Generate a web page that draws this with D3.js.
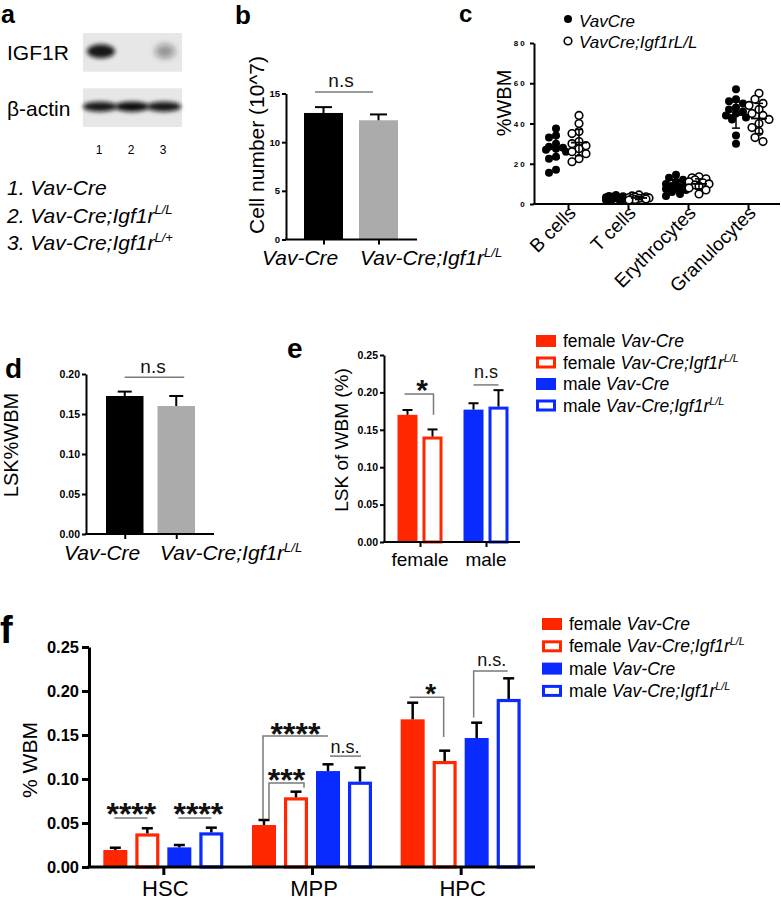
<!DOCTYPE html>
<html><head><meta charset="utf-8">
<script src="https://cdn.jsdelivr.net/npm/d3@7"></script>
<style>
body{margin:0;background:#fff;}
svg{display:block;font-family:"Liberation Sans",Arial,Helvetica,sans-serif;}
</style></head><body>
<svg id="fig" width="781" height="900"></svg>
<script>
// ---------------- DATA ----------------
// a: western blot
const blotLanes = ["1", "2", "3"];
const blotProteins = ["IGF1R", "β-actin"];
const igf1rSignal = [1.0, 0.0, 0.42];
const actinSignal = [0.95, 1.0, 0.95];
const laneGenotypes = [
  [["1. Vav-Cre", "i"]],
  [["2. Vav-Cre;Igf1r", "i"], ["L/L", "is"]],
  [["3. Vav-Cre;Igf1r", "i"], ["L/+", "is"]]
];
// b: BM cell number
const bGenotypes = ["Vav-Cre", "Vav-Cre;Igf1rL/L"];
const bCellNumber = [13.0, 12.25];
const bCellErr = [0.6, 0.6];
const bTicks = [0, 5, 10, 15];
// c: %WBM scatter
const cCategories = ["B cells", "T cells", "Erythrocytes", "Granulocytes"];
const cVavCre = [
  [37.5, 34, 33, 30, 28.5, 28, 27.5, 27, 26, 23.5, 22.5, 17, 15.5],
  [4.5, 4, 3.6, 3.3, 3, 3, 2.8, 2.6, 2.4, 2.2, 2, 1.6, 3.8],
  [14.5, 13, 12, 11, 10, 9.5, 9, 8.5, 8, 7.5, 7, 6, 5, 4],
  [57, 52, 51, 50, 48, 47, 46, 45, 44, 43, 42, 34, 30]
];
const cIgf1r = [
  [44, 40, 36, 35, 31, 30, 29, 27.5, 26, 25, 22.5, 21],
  [4.5, 4, 3.5, 3.2, 3, 3, 2.7, 2.5, 2.2, 2, 3.6, 2.8],
  [13.5, 13, 12.5, 12, 11, 10.5, 10, 9.5, 9, 8, 7, 5],
  [55, 52, 50, 49, 47, 45, 44, 42, 40, 38, 36, 33, 31]
];
const cVavMean = [28.3, 3.0, 9.0, 44.2];
const cVavSd = [5.5, 1.0, 3.0, 6.5];
const cIgfMean = [30.5, 3.0, 10.0, 42.5];
const cIgfSd = [6.5, 0.8, 2.5, 7.5];
const cTicks = [0, 20, 40, 60, 80];
const cLegend = ["VavCre", "VavCre;Igf1rL/L"];
// d: LSK %WBM
const dLSK = [0.1725, 0.160];
const dLSKErr = [0.0055, 0.0125];
const dTicks = [0, 0.05, 0.10, 0.15, 0.20];
// e: LSK by sex
const eSexes = ["female", "male"];
const eVavCre = [0.170, 0.177];
const eVavCreErr = [0.0065, 0.0085];
const eIgf1r = [0.141, 0.181];
const eIgf1rErr = [0.0095, 0.022];
const eTicks = [0, 0.05, 0.10, 0.15, 0.20, 0.25];
// f: HSC / MPP / HPC
const fPops = ["HSC", "MPP", "HPC"];
const fFemaleVav = [0.0193, 0.0477, 0.1678];
const fFemaleVavErr = [0.0026, 0.0057, 0.0189];
const fFemaleKO = [0.0382, 0.0792, 0.1205];
const fFemaleKOErr = [0.0058, 0.0064, 0.0117];
const fMaleVav = [0.0223, 0.109, 0.1466];
const fMaleVavErr = [0.0027, 0.0077, 0.0174];
const fMaleKO = [0.0394, 0.097, 0.191];
const fMaleKOErr = [0.0053, 0.0159, 0.0234];
const fTicks = [0, 0.05, 0.10, 0.15, 0.20, 0.25];
const legendSeries = [
  {sex: "female", geno: "vav"}, {sex: "female", geno: "ko"},
  {sex: "male", geno: "vav"}, {sex: "male", geno: "ko"}
];

// ---------------- DRAWING ----------------
const RED = "#ff2600", BLUE = "#0a2bff", GRAY = "#ababab", SIGGRAY = "#7a7a7a";
const FONT = "'Liberation Sans', Arial, Helvetica, sans-serif";
const svg = d3.select("#fig");
svg.append("rect").attr("width", 781).attr("height", 900).attr("fill", "#fff");
const defs = svg.append("defs");
defs.append("filter").attr("id", "blur").attr("x", "-50%").attr("y", "-80%").attr("width", "200%").attr("height", "260%")
  .append("feGaussianBlur").attr("stdDeviation", 2.2);
defs.append("filter").attr("id", "blur2").attr("x", "-50%").attr("y", "-80%").attr("width", "200%").attr("height", "260%")
  .append("feGaussianBlur").attr("stdDeviation", 3.2);

function rich(g, x, y, parts, size, anchor = "start") {
  const t = g.append("text").attr("x", x).attr("y", y).attr("font-size", size)
    .attr("text-anchor", anchor).attr("fill", "#000").attr("font-family", FONT);
  let raised = false;
  parts.forEach(([str, st]) => {
    const ts = t.append("tspan").text(str);
    if (st && st.includes("i")) ts.attr("font-style", "italic");
    if (st && st.includes("s")) {
      ts.attr("font-size", size * 0.62);
      if (!raised) { ts.attr("dy", -size * 0.4); raised = true; }
    } else if (raised) { ts.attr("dy", size * 0.4); raised = false; }
  });
  return t;
}
function genoParts(name) {
  if (name.endsWith("L/L") && name.includes("Igf1r") && name.startsWith("Vav-Cre;"))
    return [[name.replace("L/L", ""), "i"], ["L/L", "is"]];
  return [[name, "i"]];
}
function panelLetter(ch, x, y, size) {
  svg.append("text").attr("x", x).attr("y", y).attr("font-size", size).attr("font-weight", "bold")
    .attr("font-family", FONT).text(ch);
}
function yAxis(g, y, x0, ticks, fmt, o) {
  const ax = d3.axisLeft(y).tickValues(ticks).tickFormat(fmt).tickSizeInner(o.tick).tickSizeOuter(0).tickPadding(o.pad);
  const a = g.append("g").attr("transform", `translate(${x0},0)`).call(ax);
  a.attr("font-family", FONT);
  a.select(".domain").attr("stroke", "#000").attr("stroke-width", o.sw);
  a.selectAll(".tick line").attr("stroke", "#000").attr("stroke-width", o.sw);
  a.selectAll(".tick text").attr("font-size", o.fs).attr("font-weight", "bold").attr("fill", "#000")
    .attr("letter-spacing", o.ls || 0);
  return a;
}
function xAxis(g, x, y0, x0, x1, tick, sw) {
  const ax = d3.axisBottom(x).tickSizeInner(tick).tickSizeOuter(0).tickFormat("");
  const a = g.append("g").attr("transform", `translate(0,${y0})`).call(ax);
  a.select(".domain").remove();
  a.selectAll(".tick line").attr("stroke", "#000").attr("stroke-width", sw);
  g.append("line").attr("x1", x0 - sw / 2).attr("x2", x1).attr("y1", y0).attr("y2", y0)
    .attr("stroke", "#000").attr("stroke-width", sw);
}
function errT(g, cx, y1, y2, cap, sw, color = "#000") {
  g.append("line").attr("x1", cx).attr("x2", cx).attr("y1", y1).attr("y2", y2).attr("stroke", color).attr("stroke-width", sw);
  g.append("line").attr("x1", cx - cap / 2).attr("x2", cx + cap / 2).attr("y1", y2).attr("y2", y2).attr("stroke", color).attr("stroke-width", sw);
}
function bar(g, x, w, yTop, yBase, color, open, sw) {
  if (!open) {
    g.append("rect").attr("x", x).attr("y", yTop).attr("width", w).attr("height", yBase - yTop).attr("fill", color);
  } else {
    g.append("rect").attr("x", x + sw / 2).attr("y", yTop + sw / 2).attr("width", w - sw).attr("height", yBase - yTop - sw / 2)
      .attr("fill", "#fff").attr("stroke", color).attr("stroke-width", sw);
  }
}
function sigLine(g, pts, sw = 1.5) {
  g.append("path").attr("d", d3.line()(pts)).attr("fill", "none").attr("stroke", SIGGRAY).attr("stroke-width", sw);
}
function sigText(g, x, y, txt, size, bold) {
  g.append("text").attr("x", x).attr("y", y).attr("text-anchor", "middle").attr("font-size", size)
    .attr("font-weight", bold ? "bold" : "normal").attr("font-family", FONT).attr("fill", "#111").text(txt);
}

// ======== Panel a ========
panelLetter("a", 1, 22.5, 25);
const gA = svg.append("g");
const laneX = d3.scaleBand().domain(blotLanes).range([84, 180]);
const blotRowY = d3.scaleBand().domain(blotProteins).range([33, 127]).paddingInner(0.3);
blotProteins.forEach((p, pi) => {
  gA.append("rect").attr("x", 83).attr("y", blotRowY(p)).attr("width", 99).attr("height", blotRowY.bandwidth())
    .attr("fill", "#e7e7e7");
  gA.append("text").attr("x", 7).attr("y", blotRowY(p) + blotRowY.bandwidth() / 2 + 8).attr("font-size", 21)
    .attr("font-family", FONT).text(p);
  const sig = pi === 0 ? igf1rSignal : actinSignal;
  blotLanes.forEach((l, li) => {
    if (sig[li] <= 0) return;
    const cx = laneX(l) + laneX.bandwidth() / 2;
    gA.append("ellipse").attr("cx", cx + (pi === 0 ? 1 : 0)).attr("cy", blotRowY(p) + blotRowY.bandwidth() / 2 - 1)
      .attr("rx", pi === 0 ? (li === 0 ? 14 : 10) : 17).attr("ry", pi === 0 ? 7 : 5)
      .attr("fill", "#111").attr("fill-opacity", pi === 0 ? sig[li] * 0.95 : sig[li])
      .attr("filter", li === 2 && pi === 0 ? "url(#blur2)" : "url(#blur)");
  });
});
blotLanes.forEach(l => {
  gA.append("text").attr("x", laneX(l) + laneX.bandwidth() / 2 - 1).attr("y", 154).attr("text-anchor", "middle")
    .attr("font-size", 12).attr("font-family", FONT).text(l);
});
laneGenotypes.forEach((parts, i) => rich(gA, 7, 195 + i * 27.5, parts, 21));

// ======== Panel b ========
panelLetter("b", 235, 24, 26);
const gB = svg.append("g");
const yB = d3.scaleLinear().domain([0, 15]).range([239.5, 93.5]);
const xB = d3.scaleBand().domain(bGenotypes).range([304, 398]).paddingInner(0.291);
yAxis(gB, yB, 286, bTicks, d3.format("d"), {tick: 4, pad: 2, sw: 2, fs: 9.5});
bGenotypes.forEach((g, i) => {
  bar(gB, xB(g), xB.bandwidth(), yB(bCellNumber[i]), yB(0), i === 0 ? "#000" : GRAY, false);
  errT(gB, xB(g) + xB.bandwidth() / 2, yB(bCellNumber[i]), yB(bCellNumber[i] + bCellErr[i]), 17, 2);
});
xAxis(gB, d3.scaleOrdinal().domain(bGenotypes).range(bGenotypes.map(g => xB(g) + xB.bandwidth() / 2)), yB(0), 286, 417, 5, 2);
rich(gB, 262, 265, genoParts(bGenotypes[0]), 21);
rich(gB, 360, 265, genoParts(bGenotypes[1]), 21);
gB.append("text").attr("transform", "translate(264,145) rotate(-90)").attr("text-anchor", "middle")
  .attr("font-size", 21).attr("font-family", FONT).text("Cell number (10^7)");
sigLine(gB, [[xB(bGenotypes[0]) + 11, yB(15.15)], [xB(bGenotypes[1]) + 14, yB(15.15)]]);
sigText(gB, 341, 87, "n.s", 19, false);

// ======== Panel c ========
panelLetter("c", 459, 22, 24);
const gC = svg.append("g");
const yC = d3.scaleLinear().domain([0, 80]).range([204, 43]);
const xC = d3.scaleBand().domain(cCategories).range([538, 778]);
yAxis(gC, yC, 534, cTicks, d3.format("d"), {tick: 4, pad: 3, sw: 2, fs: 8, ls: 2.2});
xAxis(gC, d3.scaleOrdinal().domain(cCategories).range(cCategories.map(c => xC(c) + xC.bandwidth() / 2)), 204, 534, 780, 5, 2);
function swarm(vals, cx, r) {
  const pts = vals.map(v => ({v, py: yC(v)})).sort((a, b) => a.py - b.py);
  const placed = [];
  const cands = [0, -4, 4, -7, 7, -10, 10];
  pts.forEach(p => {
    let best = 0, bestD = -1;
    for (const c of cands) {
      let md = Infinity;
      placed.forEach(q => { const d = Math.hypot(q.dx - c, q.py - p.py); if (d < md) md = d; });
      if (md >= 2 * r * 0.85) { best = c; bestD = md; break; }
      if (md > bestD) { bestD = md; best = c; }
    }
    p.dx = best; placed.push(p);
  });
  return pts.map(p => ({x: cx + p.dx, y: p.py}));
}
function meanSd(g, cx, m, s) {
  g.append("line").attr("x1", cx).attr("x2", cx).attr("y1", yC(m - s)).attr("y2", yC(m + s)).attr("stroke", "#000").attr("stroke-width", 1.5);
  [m - s, m + s].forEach(v => g.append("line").attr("x1", cx - 4).attr("x2", cx + 4).attr("y1", yC(v)).attr("y2", yC(v)).attr("stroke", "#000").attr("stroke-width", 1.5));
  g.append("line").attr("x1", cx - 8).attr("x2", cx + 8).attr("y1", yC(m)).attr("y2", yC(m)).attr("stroke", "#000").attr("stroke-width", 1.8);
}
cCategories.forEach((c, i) => {
  const cx = xC(c) + xC.bandwidth() / 2;
  swarm(cVavCre[i], cx - 12, 4).forEach(p =>
    gC.append("circle").attr("cx", p.x).attr("cy", p.y).attr("r", 4).attr("fill", "#000"));
  swarm(cIgf1r[i], cx + 11, 4).forEach(p =>
    gC.append("circle").attr("cx", p.x).attr("cy", p.y).attr("r", 3.8).attr("fill", "#fff").attr("stroke", "#000").attr("stroke-width", 1.6));
  meanSd(gC, cx - 12, cVavMean[i], cVavSd[i]);
  meanSd(gC, cx + 11, cIgfMean[i], cIgfSd[i]);
  gC.append("text").attr("transform", `translate(${cx + 9},${214}) rotate(-45)`).attr("text-anchor", "end")
    .attr("font-size", 19).attr("font-family", FONT).text(c);
});
gC.append("text").attr("transform", "translate(511,103) rotate(-90)").attr("text-anchor", "middle")
  .attr("font-size", 20).attr("font-family", FONT).text("%WBM");
gC.append("circle").attr("cx", 568).attr("cy", 19).attr("r", 4).attr("fill", "#000");
gC.append("circle").attr("cx", 568).attr("cy", 41).attr("r", 3.8).attr("fill", "#fff").attr("stroke", "#000").attr("stroke-width", 1.6);
cLegend.forEach((t, i) => gC.append("text").attr("x", 579).attr("y", 27 + i * 21).attr("font-size", 17)
  .attr("font-style", "italic").attr("font-family", FONT).text(t));

// ======== Panel d ========
panelLetter("d", 5, 378, 28);
const gD = svg.append("g");
const yD = d3.scaleLinear().domain([0, 0.20]).range([534, 374]);
const xD = d3.scaleBand().domain(bGenotypes).range([106, 195]).paddingInner(0.272);
yAxis(gD, yD, 86, dTicks, d3.format(".2f"), {tick: 4, pad: 2, sw: 2, fs: 10.5});
bGenotypes.forEach((g, i) => {
  bar(gD, xD(g), xD.bandwidth(), yD(dLSK[i]), yD(0), i === 0 ? "#000" : GRAY, false);
  errT(gD, xD(g) + xD.bandwidth() / 2, yD(dLSK[i]), yD(dLSK[i] + dLSKErr[i]), 14, 2);
});
xAxis(gD, d3.scaleOrdinal().domain(bGenotypes).range(bGenotypes.map(g => xD(g) + xD.bandwidth() / 2)), yD(0), 86, 214, 5, 2);
rich(gD, 64, 560, genoParts(bGenotypes[0]), 21);
rich(gD, 160, 560, genoParts(bGenotypes[1]), 21);
gD.append("text").attr("transform", "translate(18,445) rotate(-90)").attr("text-anchor", "middle")
  .attr("font-size", 20).attr("font-family", FONT).text("LSK%WBM");
sigLine(gD, [[xD(bGenotypes[0]) + xD.bandwidth() / 2, yD(0.196)], [xD(bGenotypes[1]) + xD.bandwidth() / 2 + 8, yD(0.196)]]);
sigText(gD, 153, 373, "n.s", 19, false);

// ======== Panel e ========
panelLetter("e", 287, 358, 28);
const gE = svg.append("g");
const yE = d3.scaleLinear().domain([0, 0.25]).range([542, 355]);
const xE = d3.scaleBand().domain(eSexes).range([387, 519]);
const subE = d3.scaleBand().domain([0, 1]).range([-22.5, 22.5]).paddingInner(0.2);
yAxis(gE, yE, 384, eTicks, d3.format(".2f"), {tick: 4, pad: 2, sw: 2, fs: 10.5});
eSexes.forEach((s, i) => {
  const gc = xE(s) + xE.bandwidth() / 2;
  const col = i === 0 ? RED : BLUE;
  [[eVavCre, eVavCreErr, false], [eIgf1r, eIgf1rErr, true]].forEach(([vals, errs, open], k) => {
    const bx = gc + subE(k);
    bar(gE, bx, subE.bandwidth(), yE(vals[i]), yE(0), col, open, 3);
    errT(gE, bx + subE.bandwidth() / 2, yE(vals[i]), yE(vals[i] + errs[i]), 10, 2);
  });
});
xAxis(gE, d3.scaleOrdinal().domain(eSexes).range(eSexes.map(s => xE(s) + xE.bandwidth() / 2)), yE(0), 384, 520, 5, 2);
eSexes.forEach(s => gE.append("text").attr("x", xE(s) + xE.bandwidth() / 2).attr("y", 566).attr("text-anchor", "middle")
  .attr("font-size", 19).attr("font-family", FONT).text(s));
gE.append("text").attr("transform", "translate(348,440) rotate(-90)").attr("text-anchor", "middle")
  .attr("font-size", 19).attr("font-family", FONT).text("LSK of WBM (%)");
{
  const f0 = xE("female") + xE.bandwidth() / 2, m0 = xE("male") + xE.bandwidth() / 2;
  const c0 = f0 + subE(0) + subE.bandwidth() / 2, c1 = f0 + subE(1) + subE.bandwidth() / 2;
  sigLine(gE, [[c0 - 3, yE(0.198)], [c1 + 1, yE(0.198)], [c1 + 1, yE(0.170)]]);
  sigText(gE, (c0 + c1) / 2 + 2, yE(0.198) + 6, "*", 30, true);
  const m1 = m0 + subE(0) + subE.bandwidth() / 2, m2 = m0 + subE(1) + subE.bandwidth() / 2;
  sigLine(gE, [[m1, yE(0.21)], [m2, yE(0.21)]]);
  sigText(gE, (m1 + m2) / 2, yE(0.21) - 7, "n.s", 18, false);
}
function legend(g, x0, y0, dy, sw) {
  legendSeries.forEach((s, i) => {
    const col = s.sex === "female" ? RED : BLUE;
    const cy = y0 + i * dy;
    if (s.geno === "vav") g.append("rect").attr("x", x0).attr("y", cy - 6).attr("width", 20).attr("height", 12).attr("fill", col);
    else g.append("rect").attr("x", x0 + sw / 2).attr("y", cy - 6 + sw / 2).attr("width", 20 - sw).attr("height", 12 - sw)
      .attr("fill", "#fff").attr("stroke", col).attr("stroke-width", sw);
    const parts = [[s.sex + " ", ""]].concat(s.geno === "vav" ? [["Vav-Cre", "i"]] : [["Vav-Cre;Igf1r", "i"], ["L/L", "is"]]);
    rich(g, x0 + 27, cy + 6, parts, 17.5);
  });
}
legend(gE, 536, 341, 21.5, 3);

// ======== Panel f ========
panelLetter("f", 0, 643, 38);
const gF = svg.append("g");
const yF = d3.scaleLinear().domain([0, 0.25]).range([867, 647]);
const xF = d3.scaleBand().domain(fPops).range([89, 535]);
const subF = d3.scaleBand().domain([0, 1, 2, 3]).range([-60, 60]).paddingInner(0.25);
yAxis(gF, yF, 89, fTicks, d3.format(".2f"), {tick: 7, pad: 3, sw: 3, fs: 16.5});
const fSeries = [
  [fFemaleVav, fFemaleVavErr, RED, false], [fFemaleKO, fFemaleKOErr, RED, true],
  [fMaleVav, fMaleVavErr, BLUE, false], [fMaleKO, fMaleKOErr, BLUE, true]
];
const fcx = (p, k) => xF(p) + xF.bandwidth() / 2 + subF(k) + subF.bandwidth() / 2;
fPops.forEach((p, i) => {
  fSeries.forEach(([vals, errs, col, open], k) => {
    const bx = xF(p) + xF.bandwidth() / 2 + subF(k);
    bar(gF, bx, subF.bandwidth(), yF(vals[i]), yF(0), col, open, 3.2);
    errT(gF, bx + subF.bandwidth() / 2, yF(vals[i]), yF(vals[i] + errs[i]), 11, 2.5);
  });
});
xAxis(gF, d3.scaleOrdinal().domain(fPops).range(fPops.map(p => xF(p) + xF.bandwidth() / 2)), 867, 89, 535, 8, 3);
fPops.forEach(p => gF.append("text").attr("x", xF(p) + xF.bandwidth() / 2 + 2).attr("y", 896).attr("text-anchor", "middle")
  .attr("font-size", 22).attr("font-family", FONT).text(p));
gF.append("text").attr("transform", "translate(37,760) rotate(-90)").attr("text-anchor", "middle")
  .attr("font-size", 21).attr("font-family", FONT).text("% WBM");
// significance
{
  const L = 0.0557;
  sigLine(gF, [[fcx("HSC", 0) - 1, yF(L)], [fcx("HSC", 1), yF(L)]]);
  sigText(gF, (fcx("HSC", 0) + fcx("HSC", 1)) / 2, yF(L) + 7, "****", 32, true);
  sigLine(gF, [[fcx("HSC", 2) - 1, yF(L)], [fcx("HSC", 3), yF(L)]]);
  sigText(gF, (fcx("HSC", 2) + fcx("HSC", 3)) / 2 + 3, yF(L) + 7, "****", 32, true);
  const m0 = fcx("MPP", 0) - 1;
  sigLine(gF, [[m0, yF(0.0545)], [m0, yF(0.1489)], [fcx("MPP", 2), yF(0.1489)]]);
  sigText(gF, (m0 + fcx("MPP", 2)) / 2, yF(0.1489) + 9, "****", 32, true);
  sigLine(gF, [[m0 + 6, yF(0.0545)], [m0 + 6, yF(0.0955)], [fcx("MPP", 1) + 8, yF(0.0955)], [fcx("MPP", 1) + 8, yF(0.090)]]);
  sigText(gF, (m0 + 6 + fcx("MPP", 1) + 8) / 2, yF(0.0955) + 8, "***", 32, true);
  sigLine(gF, [[fcx("MPP", 2) + 2, yF(0.126)], [fcx("MPP", 3) + 1, yF(0.126)]]);
  sigText(gF, (fcx("MPP", 2) + fcx("MPP", 3)) / 2 + 1, yF(0.126) - 3, "n.s.", 18, false);
  sigLine(gF, [[fcx("HPC", 0) - 3, yF(0.193)], [fcx("HPC", 1) - 1, yF(0.193)], [fcx("HPC", 1) - 1, yF(0.1477)]]);
  sigText(gF, (fcx("HPC", 0) + fcx("HPC", 1)) / 2 + 2, yF(0.193) + 6, "*", 28, true);
  sigLine(gF, [[fcx("HPC", 2) - 3, yF(0.170)], [fcx("HPC", 2) - 3, yF(0.2227)], [fcx("HPC", 3) - 1, yF(0.2227)]]);
  sigText(gF, (fcx("HPC", 2) + fcx("HPC", 3)) / 2 - 1, yF(0.2227) - 5, "n.s.", 18, false);
}
legend(gF, 542, 624, 22.3, 3);
</script>
</body></html>
